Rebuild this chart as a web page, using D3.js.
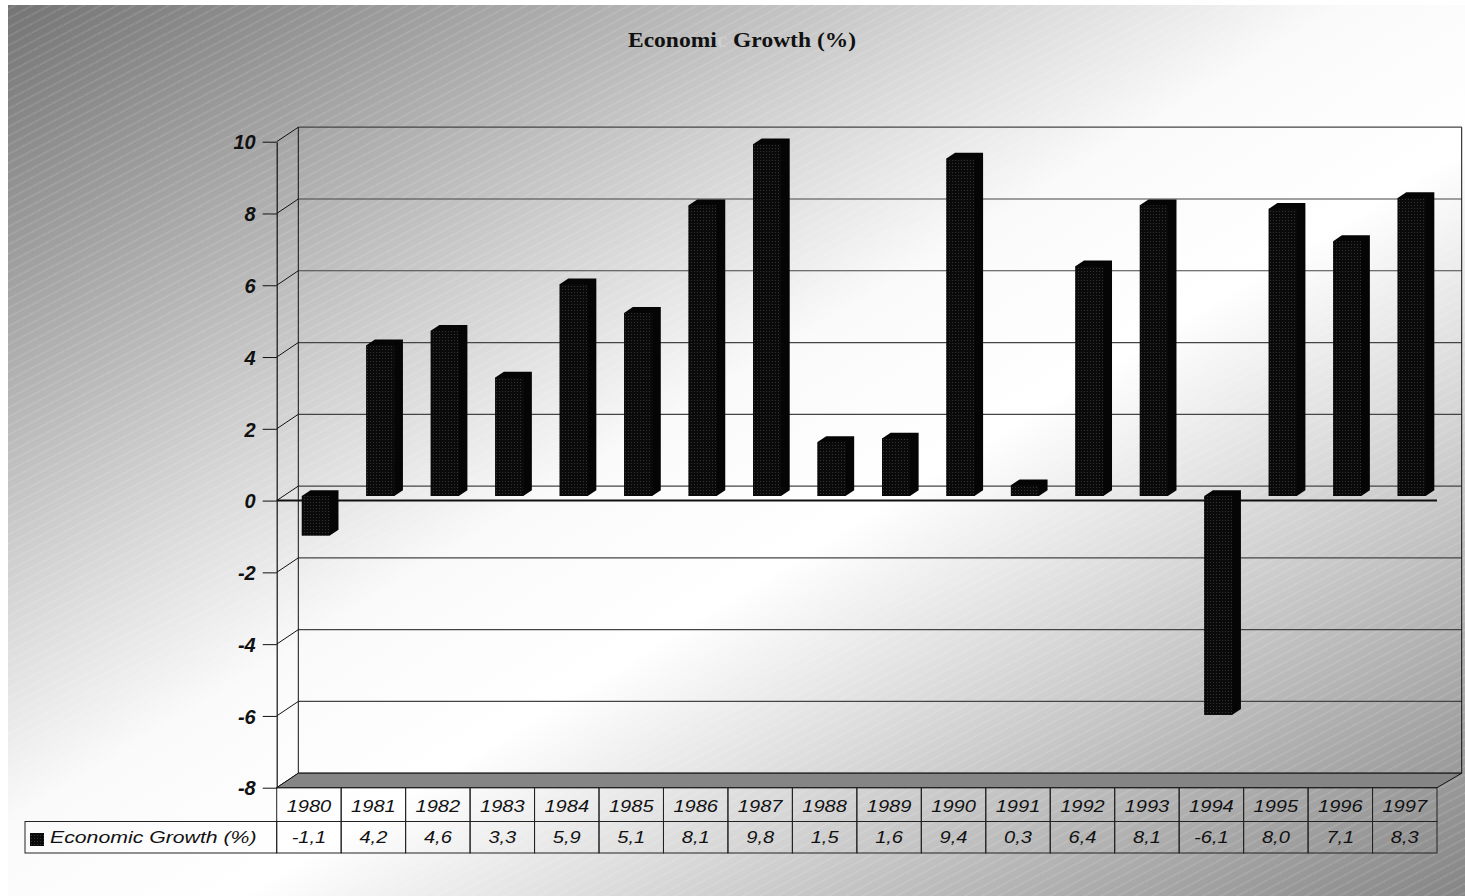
<!DOCTYPE html>
<html>
<head>
<meta charset="utf-8">
<script src="https://cdn.jsdelivr.net/npm/d3@7"></script>
<style>
  body { margin: 0; background: #fff; }
  svg { display: block; }
</style>
</head>
<body>
<svg id="chart" width="1465" height="896"></svg>
<script>
const years = ["1980", "1981", "1982", "1983", "1984", "1985", "1986", "1987", "1988",
  "1989", "1990", "1991", "1992", "1993", "1994", "1995", "1996", "1997"];
const growth = [-1.1, 4.2, 4.6, 3.3, 5.9, 5.1, 8.1, 9.8, 1.5, 1.6, 9.4, 0.3, 6.4, 8.1, -6.1, 8.0, 7.1, 8.3];
const yTicks = [-8, -6, -4, -2, 0, 2, 4, 6, 8, 10];
const seriesName = "Economic Growth (%)";

const svg = d3.select("#chart");
const defs = svg.append("defs");

// plot geometry (front plane + depth offset to back wall)
const left = 276.7, right = 1437;
const DX = 21.6, DY = -14.5;
const off = f => [f * DX, f * DY];

const x = d3.scaleBand().domain(years).range([left, right]);
const y = d3.scaleLinear().domain([-8, 10]).range([787.7, 141.7]);

// decimal comma and plain hyphen like the original
const fmt = d3.formatLocale({decimal: ",", thousands: ".", grouping: [3], currency: ["", ""], minus: "-"}).format(".1f");

// background gradient + stripes
const grad = defs.append("linearGradient").attr("id", "bg")
  .attr("x1", 0).attr("y1", 0).attr("x2", 1).attr("y2", 1);
grad.append("stop").attr("offset", 0).attr("stop-color", "#747474");
grad.append("stop").attr("offset", 0.46).attr("stop-color", "#fafafa");
grad.append("stop").attr("offset", 0.58).attr("stop-color", "#fff");
grad.append("stop").attr("offset", 1).attr("stop-color", "#858585");

const stripes = defs.append("pattern").attr("id", "stripes")
  .attr("patternUnits", "userSpaceOnUse")
  .attr("width", 8).attr("height", 8)
  .attr("patternTransform", "rotate(-28)");
stripes.append("line")
  .attr("x1", 0).attr("x2", 8).attr("y1", 4).attr("y2", 4)
  .attr("stroke", "#fff").attr("stroke-opacity", 0.3)
  .attr("stroke-width", 1).attr("stroke-dasharray", "1.5 1");

const dots = defs.append("pattern").attr("id", "dots")
  .attr("patternUnits", "userSpaceOnUse").attr("width", 3).attr("height", 3);
dots.append("rect").attr("width", 3).attr("height", 3).attr("fill", "#0a0a0a");
dots.append("rect").attr("x", 1).attr("y", 1).attr("width", 1).attr("height", 1).attr("fill", "#333");

svg.append("rect").attr("x", 8).attr("y", 5).attr("width", 1457).attr("height", 891).attr("fill", "url(#bg)");
svg.append("rect").attr("x", 8).attr("y", 5).attr("width", 1457).attr("height", 891).attr("fill", "url(#stripes)");

// title
const title = svg.append("text")
  .attr("transform", "translate(742,47) scale(1.12,1)")
  .attr("text-anchor", "middle")
  .style("font-family", "'Liberation Serif', 'Times New Roman', serif")
  .style("font-weight", "bold")
  .style("font-size", "21px")
  .attr("fill", "#111");
title.append("tspan").text("Economi");
title.append("tspan").attr("fill", "#cfcfcf").text("c");
title.append("tspan").text(" Growth (%)");

// back wall gridlines + left wall connectors
const [bx, by] = off(1);
const grid = svg.append("g");
grid.selectAll(".grid")
  .data(yTicks)
  .enter()
  .append("line")
  .attr("x1", left + bx).attr("x2", right + 24.7)
  .attr("y1", d => y(d) + by).attr("y2", d => y(d) + by)
  .attr("stroke", "#444").attr("stroke-width", 1.2);
grid.selectAll(".conn")
  .data(yTicks)
  .enter()
  .append("line")
  .attr("x1", left).attr("x2", left + bx)
  .attr("y1", d => y(d)).attr("y2", d => y(d) + by)
  .attr("stroke", "#111").attr("stroke-width", 1);
grid.append("line")
  .attr("x1", left + bx).attr("x2", left + bx)
  .attr("y1", y(10) + by).attr("y2", y(-8) + by)
  .attr("stroke", "#111");
grid.append("line")
  .attr("x1", right + 24.7).attr("x2", right + 24.7)
  .attr("y1", y(10) + by).attr("y2", y(-8) + by)
  .attr("stroke", "#111");

// floor
svg.append("polygon")
  .attr("points", [[left, y(-8)], [left + bx, y(-8) + by], [right + 24.7, y(-8) + by], [right, y(-8)]].join(" "))
  .attr("fill", "#858585").attr("stroke", "#111").attr("stroke-width", 1);

// y axis
const yAxis = svg.append("g")
  .attr("transform", `translate(${left},0)`)
  .call(d3.axisLeft(y).tickValues(yTicks).tickFormat(d => String(d)).tickSize(14).tickSizeOuter(0).tickPadding(7));
yAxis.attr("font-size", 20).attr("font-family", "'Liberation Sans', Arial, sans-serif");
yAxis.select(".domain").attr("stroke", "#111").attr("stroke-width", 1.2);
yAxis.selectAll(".tick line").attr("stroke", "#111");
yAxis.selectAll(".tick text")
  .attr("fill", "#111")
  .attr("dy", "0.36em")
  .style("font-weight", "bold")
  .style("font-style", "italic");

// zero plane front edge
svg.append("line")
  .attr("x1", left).attr("x2", right)
  .attr("y1", y(0)).attr("y2", y(0))
  .attr("stroke", "#111").attr("stroke-width", 2);

// bars
const f1 = 0.32, f2 = 0.72;
const barW = 28;
const [ox, oy] = off(f1);
const [dx, dy] = [(f2 - f1) * DX, (f2 - f1) * DY];

const bars = svg.append("g").selectAll("g")
  .data(years.map((d, i) => ({year: d, value: growth[i]})))
  .enter()
  .append("g");

bars.each(function (d) {
  const g = d3.select(this);
  const x0 = x(d.year) + (x.bandwidth() - barW) / 2 + ox;
  const x1 = x0 + barW;
  const yt = y(Math.max(d.value, 0)) + oy;
  const yb = y(Math.min(d.value, 0)) + oy;
  g.append("polygon")
    .attr("points", [[x0, yb], [x0, yt], [x0 + dx, yt + dy], [x1 + dx, yt + dy], [x1 + dx, yb + dy], [x1, yb]].join(" "))
    .attr("fill", "#050505");
  g.append("rect")
    .attr("x", x0).attr("y", yt)
    .attr("width", barW).attr("height", yb - yt)
    .attr("fill", "url(#dots)");
});

// data table
const font = "'Liberation Sans', Arial, sans-serif";
const row1 = y(-8), row2 = 821.5, row3 = 853;
const table = svg.append("g");

table.selectAll(".yr")
  .data(years)
  .enter()
  .append("rect")
  .attr("x", d => x(d)).attr("y", row1)
  .attr("width", x.bandwidth()).attr("height", row2 - row1)
  .attr("fill", "none").attr("stroke", "#222");
table.selectAll(".val")
  .data(years)
  .enter()
  .append("rect")
  .attr("x", d => x(d)).attr("y", row2)
  .attr("width", x.bandwidth()).attr("height", row3 - row2)
  .attr("fill", "none").attr("stroke", "#222");
table.append("rect")
  .attr("x", 25).attr("y", row2)
  .attr("width", left - 25).attr("height", row3 - row2)
  .attr("fill", "none").attr("stroke", "#222");

table.selectAll(".yrText")
  .data(years)
  .enter()
  .append("text")
  .attr("transform", d => `translate(${x(d) + x.bandwidth() / 2},${row2 - 10}) scale(1.18,1)`)
  .attr("text-anchor", "middle")
  .style("font-family", font).style("font-style", "italic").style("font-size", "17px")
  .attr("fill", "#111")
  .text(d => d);

table.selectAll(".valText")
  .data(growth)
  .enter()
  .append("text")
  .attr("transform", (d, i) => `translate(${x(years[i]) + x.bandwidth() / 2},${row3 - 10}) scale(1.18,1)`)
  .attr("text-anchor", "middle")
  .style("font-family", font).style("font-style", "italic").style("font-size", "17px")
  .attr("fill", "#111")
  .text(d => fmt(d));

table.append("rect")
  .attr("x", 30).attr("y", 833).attr("width", 14).attr("height", 13)
  .attr("fill", "url(#dots)");
table.append("text")
  .attr("transform", `translate(50,${row3 - 10}) scale(1.25,1)`)
  .style("font-family", font).style("font-style", "italic").style("font-size", "17px")
  .attr("fill", "#111")
  .text(seriesName);
</script>
</body>
</html>
